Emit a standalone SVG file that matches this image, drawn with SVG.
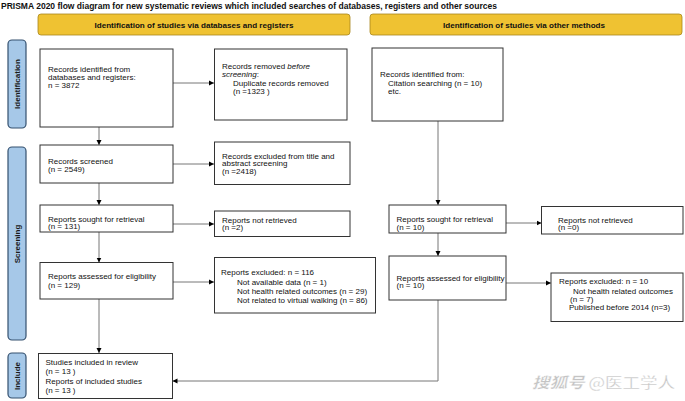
<svg xmlns="http://www.w3.org/2000/svg" width="685" height="401" viewBox="0 0 685 401">
<style>
.t{font-family:"Liberation Sans",Arial,sans-serif;font-size:8px;fill:#111}
.hd{font-family:"Liberation Sans",Arial,sans-serif;font-size:8px;font-weight:bold;fill:#111;text-anchor:middle}
.sd{font-family:"Liberation Sans",Arial,sans-serif;font-size:8px;font-weight:bold;fill:#1a1a1a;text-anchor:middle}
.box{fill:#fff;stroke:#333;stroke-width:1}
.hdr{fill:#EFC232;stroke:#A8861C;stroke-width:0.8}
.side{fill:#A6C8E8;stroke:#34506E;stroke-width:1.2}
.c{stroke:#777;stroke-width:1;fill:none}
</style>
<defs>
<marker id="ah" markerWidth="6" markerHeight="6" refX="5" refY="3" orient="auto" markerUnits="userSpaceOnUse">
<path d="M0,0.5 L5,3 L0,5.5 Z" fill="#000"/>
</marker>
</defs>
<rect width="685" height="401" fill="#fff"/>
<text x="1" y="9" font-family="'Liberation Sans',Arial,sans-serif" font-size="8.5" font-weight="bold" fill="#111" textLength="496" lengthAdjust="spacingAndGlyphs">PRISMA 2020 flow diagram for new systematic reviews which included searches of databases, registers and other sources</text>

<g id="header-left"><rect class="hdr" x="38" y="14" width="312" height="21" rx="3"/><text class="hd" x="194" y="27.5" textLength="199" lengthAdjust="spacingAndGlyphs">Identification of studies via databases and registers</text></g>
<g id="header-right"><rect class="hdr" x="370" y="14" width="312" height="21" rx="3"/><text class="hd" x="524" y="27.5" textLength="162" lengthAdjust="spacingAndGlyphs">Identification of studies via other methods</text></g>

<g id="side-identification"><rect class="side" x="8" y="40" width="18" height="88" rx="4"/><text class="sd" transform="translate(20,84) rotate(-90)">Identification</text></g>
<g id="side-screening"><rect class="side" x="8" y="147" width="18" height="193" rx="4"/><text class="sd" transform="translate(20,244) rotate(-90)">Screening</text></g>
<g id="side-include"><rect class="side" x="8" y="353" width="18" height="45" rx="4"/><text class="sd" transform="translate(20,376) rotate(-90)">Include</text></g>

<g id="connectors">
<line class="c" x1="99" y1="127" x2="99" y2="145" marker-end="url(#ah)"/>
<line class="c" x1="173" y1="83" x2="214" y2="83" marker-end="url(#ah)"/>
<line class="c" x1="173" y1="164" x2="214" y2="164" marker-end="url(#ah)"/>
<line class="c" x1="99" y1="183" x2="99" y2="205" marker-end="url(#ah)"/>
<line class="c" x1="173" y1="224" x2="214" y2="224" marker-end="url(#ah)"/>
<line class="c" x1="99" y1="232" x2="99" y2="262.5" marker-end="url(#ah)"/>
<line class="c" x1="173" y1="282" x2="214" y2="282" marker-end="url(#ah)"/>
<line class="c" x1="99" y1="299" x2="99" y2="353" marker-end="url(#ah)"/>
<line class="c" x1="438" y1="121" x2="438" y2="205" marker-end="url(#ah)"/>
<line class="c" x1="506" y1="223" x2="541.5" y2="223" marker-end="url(#ah)"/>
<line class="c" x1="438" y1="233" x2="438" y2="256" marker-end="url(#ah)"/>
<line class="c" x1="506" y1="283" x2="551" y2="283" marker-end="url(#ah)"/>
<polyline class="c" points="438,300 438,381 172.5,381" marker-end="url(#ah)"/>
</g>

<g id="records-identified"><rect class="box" x="40" y="49" width="133" height="78"/>
<text class="t" x="48" y="72">Records identified from</text>
<text class="t" x="48" y="80">databases and registers:</text>
<text class="t" x="48" y="88">n = 3872</text></g>

<g id="records-removed"><rect class="box" x="214.5" y="49" width="132.5" height="71"/>
<text class="t" x="222" y="69">Records removed <tspan font-style="italic">before</tspan></text>
<text class="t" x="222" y="77"><tspan font-style="italic">screening</tspan>:</text>
<text class="t" x="233" y="86">Duplicate records removed</text>
<text class="t" x="233" y="94">(n =1323 )</text></g>

<g id="other-identified"><rect class="box" x="372" y="48" width="131" height="73"/>
<text class="t" x="380" y="77">Records identified from:</text>
<text class="t" x="388" y="85.5">Citation searching (n = 10)</text>
<text class="t" x="388" y="93.5">etc.</text></g>

<g id="records-screened"><rect class="box" x="40" y="145" width="133" height="38"/>
<text class="t" x="48" y="164">Records screened</text>
<text class="t" x="48" y="172">(n = 2549)</text></g>

<g id="records-excluded"><rect class="box" x="214.5" y="142" width="135.5" height="42.5"/>
<text class="t" x="222" y="158.5">Records excluded from title and</text>
<text class="t" x="222" y="166">abstract screening</text>
<text class="t" x="222" y="173.5">(n =2418)</text></g>

<g id="reports-sought"><rect class="box" x="40" y="205" width="133" height="27"/>
<text class="t" x="48" y="221.5">Reports sought for retrieval</text>
<text class="t" x="48" y="229">(n = 131)</text></g>

<g id="reports-not-retrieved"><rect class="box" x="214.5" y="211" width="135.5" height="25.5"/>
<text class="t" x="222" y="222.5">Reports not retrieved</text>
<text class="t" x="222" y="230">(n =2)</text></g>

<g id="reports-assessed"><rect class="box" x="40" y="262.5" width="133" height="36.5"/>
<text class="t" x="48" y="279">Reports assessed for eligibility</text>
<text class="t" x="48" y="287.5">(n = 129)</text></g>

<g id="reports-excluded"><rect class="box" x="214.5" y="257.5" width="161" height="55.5"/>
<text class="t" x="221" y="275">Reports excluded: n = 116</text>
<text class="t" x="237" y="284.5">Not available data (n = 1)</text>
<text class="t" x="237" y="294">Not health related outcomes (n = 29)</text>
<text class="t" x="237" y="303">Not related to virtual walking (n = 86)</text></g>

<g id="studies-included"><rect class="box" x="38.5" y="353.5" width="134" height="45"/>
<text class="t" x="45.5" y="365">Studies included in review</text>
<text class="t" x="45.5" y="374">(n = 13 )</text>
<text class="t" x="45.5" y="383.5">Reports of included studies</text>
<text class="t" x="45.5" y="392.5">(n = 13 )</text></g>

<g id="other-sought"><rect class="box" x="389" y="205" width="117" height="28"/>
<text class="t" x="396.5" y="222">Reports sought for retrieval</text>
<text class="t" x="396.5" y="229.5">(n = 10)</text></g>

<g id="other-not-retrieved"><rect class="box" x="541.5" y="206.5" width="141.5" height="27.5"/>
<text class="t" x="558" y="222.5">Reports not retrieved</text>
<text class="t" x="558" y="230">(n =0)</text></g>

<g id="other-assessed"><rect class="box" x="389" y="256" width="117" height="44"/>
<text class="t" x="396.5" y="280.5">Reports assessed for eligibility</text>
<text class="t" x="396.5" y="288">(n = 10)</text></g>

<g id="other-excluded"><rect class="box" x="551" y="273" width="132" height="48.5"/>
<text class="t" x="559" y="283.5">Reports excluded: n = 10</text>
<text class="t" x="573" y="293.5">Not health related outcomes</text>
<text class="t" x="570" y="301.5">(n = 7)</text>
<text class="t" x="569" y="310">Published before 2014 (n=3)</text></g>

<g id="watermark">
<text x="532" y="387.5" font-family="'Noto Sans CJK SC',sans-serif" font-size="15" fill="#c4c4c4" stroke="#fff" stroke-width="0.3" textLength="143" lengthAdjust="spacingAndGlyphs"><tspan font-style="italic" font-weight="bold">搜狐号</tspan> @医工学人</text>
</g>
</svg>
